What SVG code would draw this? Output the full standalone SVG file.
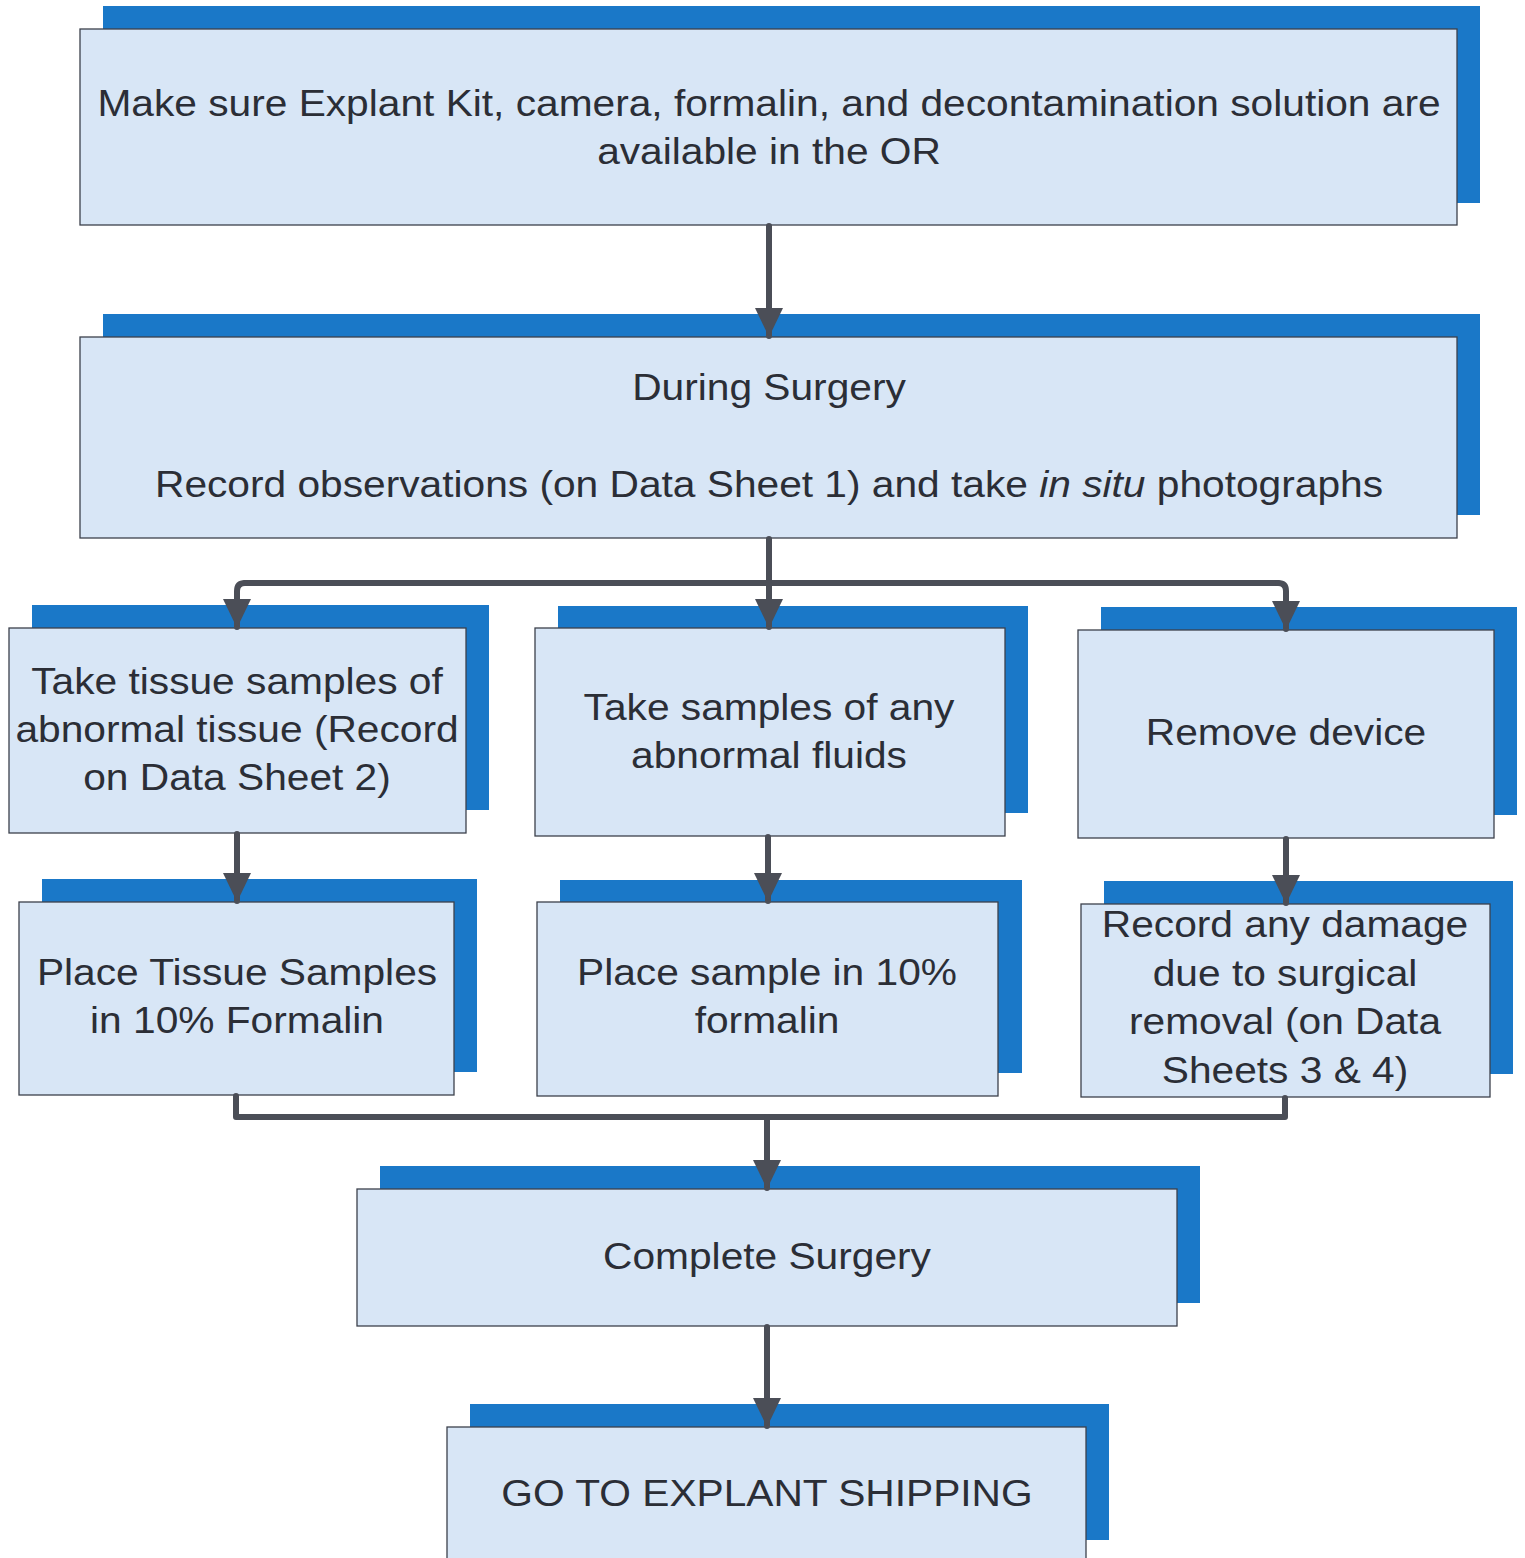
<svg xmlns="http://www.w3.org/2000/svg" width="1525" height="1558" viewBox="0 0 1525 1558">
<style>
.sh{fill:#1a78c8}
.bx{fill:#d8e6f6;stroke:#3c414c;stroke-width:1.3}
.t{font-family:"Liberation Sans",Arial,sans-serif;font-size:37px;fill:#2b2e36;text-anchor:middle}
.c{fill:none;stroke:#4b4e57;stroke-width:6;stroke-linejoin:round;stroke-linecap:round}
</style>
<defs>
<marker id="ah" markerUnits="userSpaceOnUse" markerWidth="29" markerHeight="30" refX="28" refY="15" orient="auto" viewBox="0 0 29 30">
<path d="M0,1 L29,15 L0,29 Z" fill="#4b4e57"/>
</marker>
</defs>
<rect width="1525" height="1558" fill="#ffffff"/>

<g id="n1">
<rect class="sh" x="103" y="6" width="1377" height="197"/>
<rect class="bx" x="80" y="29" width="1377" height="196"/>
<text class="t" transform="translate(769 0) scale(1.1 1)" x="0" y="116">Make sure Explant Kit, camera, formalin, and decontamination solution are</text>
<text class="t" transform="translate(769 0) scale(1.1 1)" x="0" y="164">available in the OR</text>
</g>

<g id="n2">
<rect class="sh" x="103" y="314" width="1377" height="201"/>
<rect class="bx" x="80" y="337" width="1377" height="201"/>
<text class="t" transform="translate(769 0) scale(1.1 1)" x="0" y="400">During Surgery</text>
<text class="t" transform="translate(769 0) scale(1.1 1)" x="0" y="497">Record observations (on Data Sheet 1) and take <tspan font-style="italic">in situ</tspan> photographs</text>
</g>

<g id="n3">
<rect class="sh" x="32" y="605" width="457" height="205"/>
<rect class="bx" x="9" y="628" width="457" height="205"/>
<text class="t" transform="translate(237 0) scale(1.1 1)" x="0" y="694">Take tissue samples of</text>
<text class="t" transform="translate(237 0) scale(1.1 1)" x="0" y="742">abnormal tissue (Record</text>
<text class="t" transform="translate(237 0) scale(1.1 1)" x="0" y="790">on Data Sheet 2)</text>
</g>

<g id="n4">
<rect class="sh" x="558" y="606" width="470" height="207"/>
<rect class="bx" x="535" y="628" width="470" height="208"/>
<text class="t" transform="translate(769 0) scale(1.1 1)" x="0" y="720">Take samples of any</text>
<text class="t" transform="translate(769 0) scale(1.1 1)" x="0" y="768">abnormal fluids</text>
</g>

<g id="n5">
<rect class="sh" x="1101" y="607" width="416" height="208"/>
<rect class="bx" x="1078" y="630" width="416" height="208"/>
<text class="t" transform="translate(1286 0) scale(1.1 1)" x="0" y="745">Remove device</text>
</g>

<g id="n6">
<rect class="sh" x="42" y="879" width="435" height="193"/>
<rect class="bx" x="19" y="902" width="435" height="193"/>
<text class="t" transform="translate(237 0) scale(1.1 1)" x="0" y="985">Place Tissue Samples</text>
<text class="t" transform="translate(237 0) scale(1.1 1)" x="0" y="1033">in 10% Formalin</text>
</g>

<g id="n7">
<rect class="sh" x="560" y="880" width="462" height="193"/>
<rect class="bx" x="537" y="902" width="461" height="194"/>
<text class="t" transform="translate(767 0) scale(1.1 1)" x="0" y="985">Place sample in 10%</text>
<text class="t" transform="translate(767 0) scale(1.1 1)" x="0" y="1033">formalin</text>
</g>

<g id="n8">
<rect class="sh" x="1104" y="881" width="409" height="193"/>
<rect class="bx" x="1081" y="904" width="409" height="193"/>
<text class="t" transform="translate(1285 0) scale(1.1 1)" x="0" y="937">Record any damage</text>
<text class="t" transform="translate(1285 0) scale(1.1 1)" x="0" y="986">due to surgical</text>
<text class="t" transform="translate(1285 0) scale(1.1 1)" x="0" y="1034">removal (on Data</text>
<text class="t" transform="translate(1285 0) scale(1.1 1)" x="0" y="1083">Sheets 3 &amp; 4)</text>
</g>

<g id="n9">
<rect class="sh" x="380" y="1166" width="820" height="137"/>
<rect class="bx" x="357" y="1189" width="820" height="137"/>
<text class="t" transform="translate(767 0) scale(1.1 1)" x="0" y="1269">Complete Surgery</text>
</g>

<g id="n10">
<rect class="sh" x="470" y="1404" width="639" height="136"/>
<rect class="bx" x="447" y="1427" width="639" height="140"/>
<text class="t" transform="translate(767 0) scale(1.1 1)" x="0" y="1506">GO TO EXPLANT SHIPPING</text>
</g>

<g id="connectors">
<path class="c" d="M769,226 L769,336" marker-end="url(#ah)"/>
<path class="c" d="M769,539 L769,583"/>
<path class="c" d="M245,583 L1278,583"/>
<path class="c" d="M245,583 Q237,583 237,591 L237,627" marker-end="url(#ah)"/>
<path class="c" d="M769,583 L769,627" marker-end="url(#ah)"/>
<path class="c" d="M1278,583 Q1286,583 1286,591 L1286,629" marker-end="url(#ah)"/>
<path class="c" d="M237,834 L237,901" marker-end="url(#ah)"/>
<path class="c" d="M768,837 L768,901" marker-end="url(#ah)"/>
<path class="c" d="M1286,839 L1286,903" marker-end="url(#ah)"/>
<path class="c" d="M236,1096 L236,1117 L1285,1117 L1285,1098"/>
<path class="c" d="M767,1117 L767,1188" marker-end="url(#ah)"/>
<path class="c" d="M767,1327 L767,1426" marker-end="url(#ah)"/>
</g>
</svg>
